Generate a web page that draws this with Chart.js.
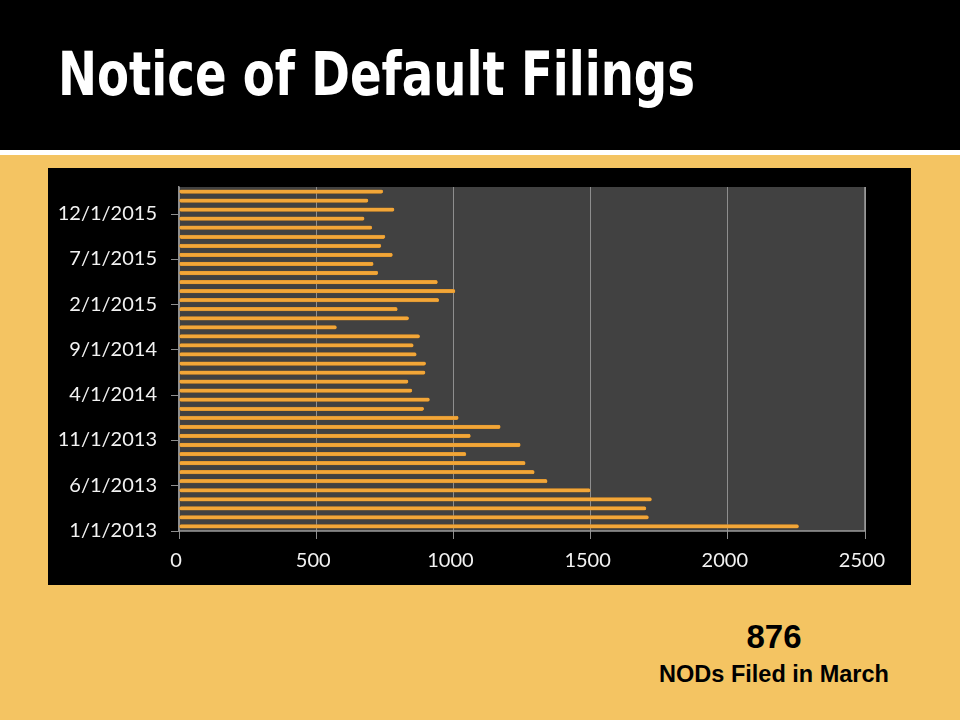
<!DOCTYPE html>
<html>
<head>
<meta charset="utf-8">
<script src="https://cdn.jsdelivr.net/npm/chart.js@4.4.1/dist/chart.umd.min.js"></script>
<style>
  html, body { margin: 0; padding: 0; }
  body { width: 960px; height: 720px; background: #F4C462; position: relative; overflow: hidden; font-family: "Liberation Sans", Arial, sans-serif; }
  #header { position: absolute; left: 0; top: 0; width: 960px; height: 150px; background: #000; }
  #rule { position: absolute; left: 0; top: 150px; width: 960px; height: 5px; background: #fff; }
  #title { position: absolute; left: 58px; top: 39px; color: #fff; font-family: "Liberation Sans Narrow", "DejaVu Sans Condensed", sans-serif; font-weight: bold; font-size: 61px; line-height: 70px; white-space: nowrap; transform-origin: 0 0; }
  #box { position: absolute; left: 48px; top: 168px; width: 863px; height: 417px; background: #000; }
  #box canvas { display: block; }
  .note { position: absolute; width: 320px; left: 614px; text-align: center; color: #000; font-weight: bold; font-family: "Liberation Sans", Arial, sans-serif; }
  #num { top: 617px; font-size: 33px; line-height: 40px; }
  #cap { top: 660px; font-size: 23.5px; line-height: 28px; }
</style>
</head>
<body>
<div id="header"></div>
<div id="rule"></div>
<div id="title">Notice of Default Filings</div>
<div id="box"><canvas id="c" width="863" height="417"></canvas></div>
<div id="num" class="note">876</div>
<div id="cap" class="note">NODs Filed in March</div>
<script>
// Categories (monthly, chronological)
const months = [
  "1/1/2013","2/1/2013","3/1/2013","4/1/2013","5/1/2013","6/1/2013","7/1/2013","8/1/2013","9/1/2013","10/1/2013","11/1/2013","12/1/2013",
  "1/1/2014","2/1/2014","3/1/2014","4/1/2014","5/1/2014","6/1/2014","7/1/2014","8/1/2014","9/1/2014","10/1/2014","11/1/2014","12/1/2014",
  "1/1/2015","2/1/2015","3/1/2015","4/1/2015","5/1/2015","6/1/2015","7/1/2015","8/1/2015","9/1/2015","10/1/2015","11/1/2015","12/1/2015",
  "1/1/2016","2/1/2016"
];
// Notice of Default filings per month
const nodFilings = [
  2258, 1711, 1702, 1722, 1499, 1342, 1295, 1262, 1046, 1244, 1062, 1171,
  1018, 892, 913, 849, 835, 897, 899, 865, 854, 877, 574, 837,
  796, 947, 1006, 942, 725, 708, 778, 736, 751, 703, 675, 784,
  689, 743
];
// Labelled months on the category axis
const shownMonths = ["1/1/2013","6/1/2013","11/1/2013","4/1/2014","9/1/2014","2/1/2015","7/1/2015","12/1/2015"];
// Value axis ticks
const valueTicks = [0, 500, 1000, 1500, 2000, 2500];

// Fit title width
(function(){
  const t = document.getElementById('title');
  const w = t.getBoundingClientRect().width;
  t.style.transform = 'scaleX(' + (637 / w) + ')';
})();

const plotBg = {
  id: 'plotBg',
  beforeDraw(chart) {
    const a = chart.chartArea, ctx = chart.ctx;
    ctx.save();
    ctx.fillStyle = '#414141';
    ctx.fillRect(a.left, a.top, a.right - a.left, a.bottom - a.top);
    ctx.restore();
  },
  afterDatasetsDraw(chart) {
    const a = chart.chartArea, ctx = chart.ctx;
    ctx.save();
    ctx.strokeStyle = '#9a9a9a';
    ctx.lineWidth = 1.5;
    ctx.beginPath();
    ctx.moveTo(a.right, a.top);
    ctx.lineTo(a.right, a.bottom);
    ctx.lineTo(a.left, a.bottom);
    ctx.stroke();
    ctx.restore();
  }
};

new Chart(document.getElementById('c'), {
  type: 'bar',
  data: {
    labels: months,
    datasets: [{
      data: nodFilings,
      backgroundColor: '#F2A638',
      borderColor: '#D98E26',
      borderWidth: 0.5,
      borderRadius: 2,
      borderSkipped: false,
      barThickness: 3.6
    }]
  },
  options: {
    indexAxis: 'y',
    responsive: false,
    animation: false,
    devicePixelRatio: 1,
    layout: { padding: { top: 19, right: 46, bottom: 0, left: 0 } },
    plugins: { legend: { display: false }, tooltip: { enabled: false } },
    scales: {
      x: {
        min: valueTicks[0],
        max: valueTicks[valueTicks.length - 1],
        afterBuildTicks(scale) { scale.ticks = valueTicks.map(v => ({ value: v })); },
        afterFit(scale) { scale.height = 54; scale.paddingLeft = 0; scale.paddingRight = 0; },
        grid: { color: '#8e8e8e', lineWidth: 1, tickLength: 8, drawTicks: true },
        border: { display: false },
        ticks: {
          color: '#f2f2f2', font: { family: 'Lato', size: 20 }, padding: 10, labelOffset: -3, maxRotation: 0,
          callback(value) { return String(value); }
        }
      },
      y: {
        reverse: true,
        afterFit(scale) { scale.width = 131; scale.paddingTop = 0; scale.paddingBottom = 0; },
        grid: {
          drawOnChartArea: false,
          tickLength: 8,
          color: ctx => (ctx.tick && shownMonths.includes(ctx.tick.label)) ? '#8e8e8e' : 'rgba(0,0,0,0)'
        },
        border: { display: true, color: '#8e8e8e', width: 1.5 },
        ticks: {
          autoSkip: false,
          color: '#f2f2f2',
          font: { family: 'Lato', size: 20 },
          padding: 14,
          labelOffset: 4,
          callback(value) {
            const lab = this.getLabelForValue(value);
            return shownMonths.includes(lab) ? lab : '';
          }
        }
      }
    }
  },
  plugins: [plotBg]
});
</script>
</body>
</html>
